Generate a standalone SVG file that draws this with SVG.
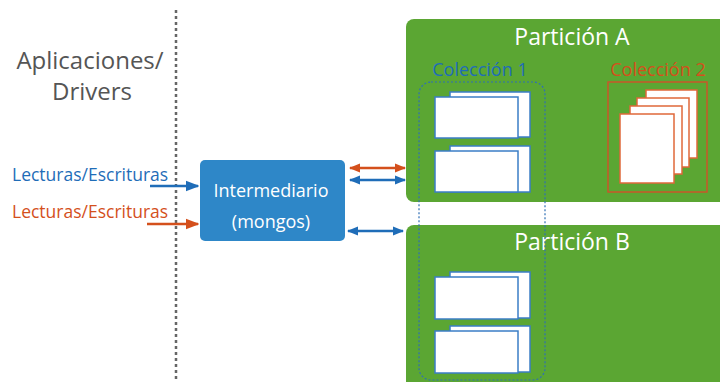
<svg xmlns="http://www.w3.org/2000/svg" width="720" height="382" viewBox="0 0 720 382">
<style>
text{font-family:"Open Sans","Noto Sans","Liberation Sans",sans-serif}
.part{fill:#5ba633}
.ptitle{fill:#fff;font-size:23px;text-anchor:middle}
.doc{fill:#fff;stroke:#3b7ec6;stroke-width:1.5}
.page{fill:#fff;stroke:#e0683a;stroke-width:1.5}
.lbl{font-size:17.5px}
.blue{fill:#1f6db8}
.red{fill:#d4501c}
.ab{stroke:#1f6db8;stroke-width:2.5;fill:none}
.ar{stroke:#d4501c;stroke-width:2.5;fill:none}
</style>
<defs>
<marker id="hb" viewBox="0 0 10 10" refX="9" refY="5" markerWidth="5.5" markerHeight="5.5" orient="auto-start-reverse" markerUnits="strokeWidth"><path d="M0,1 L10,5 L0,9 z" fill="#1f6db8"/></marker>
<marker id="hr" viewBox="0 0 10 10" refX="9" refY="5" markerWidth="5.5" markerHeight="5.5" orient="auto-start-reverse" markerUnits="strokeWidth"><path d="M0,1 L10,5 L0,9 z" fill="#d4501c"/></marker>
<marker id="hb2" viewBox="0 0 10 10" refX="9" refY="5" markerWidth="4.5" markerHeight="4.5" orient="auto-start-reverse" markerUnits="strokeWidth"><path d="M0,1 L10,5 L0,9 z" fill="#1f6db8"/></marker>
<marker id="hr2" viewBox="0 0 10 10" refX="9" refY="5" markerWidth="4.5" markerHeight="4.5" orient="auto-start-reverse" markerUnits="strokeWidth"><path d="M0,1 L10,5 L0,9 z" fill="#d4501c"/></marker>
</defs>
<rect width="720" height="382" fill="#fff"/>
<line x1="176" y1="10" x2="176" y2="382" stroke="#666" stroke-width="2.5" stroke-dasharray="3,3"/>
<g id="apps">
<text x="90" y="69" font-size="24" fill="#555" text-anchor="middle">Aplicaciones/</text>
<text x="92" y="100" font-size="24" fill="#555" text-anchor="middle">Drivers</text>
</g>
<g id="rw-blue"><text class="lbl blue" x="12" y="181">Lecturas/Escrituras</text></g>
<g id="rw-red"><text class="lbl red" x="12" y="218">Lecturas/Escrituras</text></g>
<g id="partA">
<rect class="part" x="406" y="19" width="330" height="183" rx="8"/>
<text class="ptitle" x="572" y="45">Partición A</text>
</g>
<g id="partB">
<rect class="part" x="406" y="225" width="330" height="170" rx="8"/>
<text class="ptitle" x="572" y="250">Partición B</text>
</g>
<g id="intermediario">
<rect x="200" y="160" width="145" height="81" rx="5" fill="#2e87c8"/>
<text x="271" y="197" font-size="18" fill="#fff" text-anchor="middle">Intermediario</text>
<text x="271" y="228" font-size="18" fill="#fff" text-anchor="middle">(mongos)</text>
</g>
<g id="coleccion1">
<text x="480" y="76" font-size="18" class="blue" text-anchor="middle">Colección 1</text>
<rect x="419" y="82" width="126" height="298" rx="12" fill="none" stroke="#2f6fb5" stroke-width="1.2" stroke-dasharray="2,2"/>
<rect class="doc" x="450" y="92" width="80" height="45"/>
<rect class="doc" x="435" y="97" width="83" height="41"/>
<rect class="doc" x="450" y="146" width="80" height="46"/>
<rect class="doc" x="435" y="151" width="83" height="41"/>
<rect class="doc" x="450" y="272" width="80" height="46"/>
<rect class="doc" x="435" y="277" width="83" height="42"/>
<rect class="doc" x="450" y="326" width="80" height="46"/>
<rect class="doc" x="435" y="331" width="83" height="42"/>
</g>
<g id="coleccion2">
<text x="658" y="76" font-size="18" class="red" text-anchor="middle">Colección 2</text>
<rect x="608" y="82" width="99" height="110" fill="none" stroke="#c9572a" stroke-width="1.5"/>
<rect class="page" x="646" y="90" width="51" height="68"/>
<rect class="page" x="637" y="98" width="52" height="69"/>
<rect class="page" x="630" y="106" width="52" height="68"/>
<rect class="page" x="620" y="114" width="54" height="69"/>
</g>
<g id="connectors">
<line class="ab" x1="150" y1="186" x2="198" y2="186" marker-end="url(#hb)"/>
<line class="ar" x1="147" y1="224" x2="198" y2="224" marker-end="url(#hr)"/>
<line class="ar" x1="350" y1="168" x2="405" y2="168" marker-start="url(#hr2)" marker-end="url(#hr2)"/>
<line class="ab" x1="350" y1="180" x2="405" y2="180" marker-start="url(#hb2)" marker-end="url(#hb2)"/>
<line class="ab" x1="348" y1="231" x2="403" y2="231" marker-start="url(#hb2)" marker-end="url(#hb2)"/>
</g>
</svg>
